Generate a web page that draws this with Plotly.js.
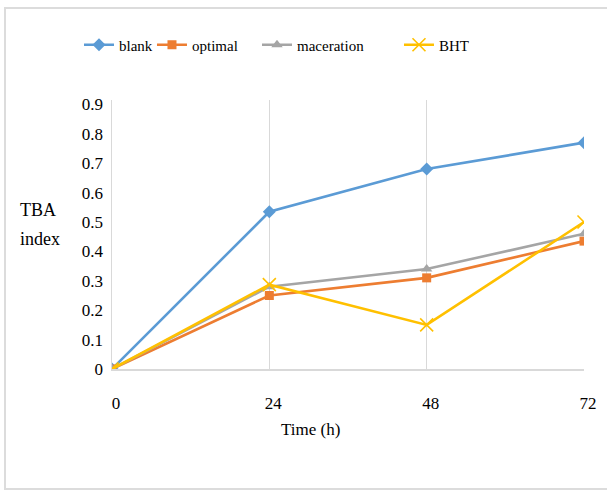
<!DOCTYPE html>
<html>
<head>
<meta charset="utf-8">
<script src="https://cdn.plot.ly/plotly-3.0.1.min.js"></script>
<style>html,body{margin:0;padding:0;background:#fff;}#chart{width:607px;height:492px;}</style>
</head>
<body>
<div id="chart"></div>
<script>
var timeHours = [0, 24, 48, 72];
var tickLabels = ['0', '24', '48', '72'];
var blank = [0, 0.535, 0.68, 0.77];
var optimal = [0, 0.25, 0.31, 0.435];
var maceration = [0, 0.28, 0.34, 0.46];
var bht = [0, 0.287, 0.15, 0.50];

var serif = '"Liberation Serif", "Times New Roman", serif';

function tr(name, y, color, symbol, size, legend, extra) {
  var m = {symbol: symbol, size: size, color: color};
  if (extra) { m.line = {color: color, width: 1.6}; }
  return {
    x: timeHours, y: y, name: name, type: 'scatter', mode: 'lines+markers',
    line: {color: color, width: 2.6},
    marker: m,
    legend: legend
  };
}

var data = [
  tr('blank', blank, '#5B9BD5', 'diamond', 10, 'legend'),
  tr('optimal', optimal, '#ED7D31', 'square', 9, 'legend2'),
  tr('maceration', maceration, '#A5A5A5', 'triangle-up', 10, 'legend3'),
  tr('BHT', bht, '#FFC000', 'x-thin-open', 13, 'legend4', true)
];

function leg(x) {
  return {x: x, y: 1.2045, xref: 'paper', yref: 'paper', xanchor: 'left', yanchor: 'middle',
          orientation: 'h', bgcolor: 'rgba(0,0,0,0)', font: {family: serif, size: 15, color: '#000'}};
}

var layout = {
  width: 607, height: 492,
  margin: {l: 112, r: 23, t: 100, b: 123},
  paper_bgcolor: '#fff', plot_bgcolor: '#fff',
  showlegend: true,
  legend: leg(-0.0699),
  legend2: leg(0.0847),
  legend3: leg(0.3072),
  legend4: leg(0.608),
  xaxis: {
    range: [0, 72], tickvals: timeHours, ticktext: tickLabels,
    showgrid: true, gridcolor: '#d9d9d9', gridwidth: 1,
    zeroline: false, showline: true, linecolor: '#d9d9d9', linewidth: 1.5,
    ticks: '', ticklabelstandoff: 18, ticklabelshift: 4,
    tickfont: {family: serif, size: 17, color: '#000'}
  },
  yaxis: {
    range: [0, 0.915], tickvals: [0,0.1,0.2,0.3,0.4,0.5,0.6,0.7,0.8,0.9],
    ticktext: ['0','0.1','0.2','0.3','0.4','0.5','0.6','0.7','0.8','0.9'],
    showgrid: false, zeroline: false, showline: true, linecolor: '#d9d9d9', linewidth: 1.5,
    ticks: '', ticklabelstandoff: 4,
    tickfont: {family: serif, size: 17, color: '#000'}
  },
  annotations: [
    {text: 'TBA', xref: 'paper', yref: 'paper', x: (18 - 112) / 472, y: (369 - 210) / 269,
     xanchor: 'left', yanchor: 'middle', showarrow: false, font: {family: serif, size: 18, color: '#000'}},
    {text: 'index', xref: 'paper', yref: 'paper', x: (18 - 112) / 472, y: (369 - 239) / 269,
     xanchor: 'left', yanchor: 'middle', showarrow: false, font: {family: serif, size: 18, color: '#000'}},
    {text: 'Time (h)', xref: 'paper', yref: 'paper', x: (310 - 112) / 472, y: (369 - 429) / 269,
     xanchor: 'center', yanchor: 'middle', showarrow: false, font: {family: serif, size: 17, color: '#000'}}
  ],
  shapes: [
    {type: 'rect', xref: 'paper', yref: 'paper', x0: (5 - 112) / 472, x1: (612 - 112) / 472,
     y0: (369 - 489) / 269, y1: (369 - 8) / 269, line: {color: '#dcdcdc', width: 2}, layer: 'below'}
  ]
};

Plotly.newPlot('chart', data, layout, {staticPlot: true, displayModeBar: false});
</script>
</body>
</html>
